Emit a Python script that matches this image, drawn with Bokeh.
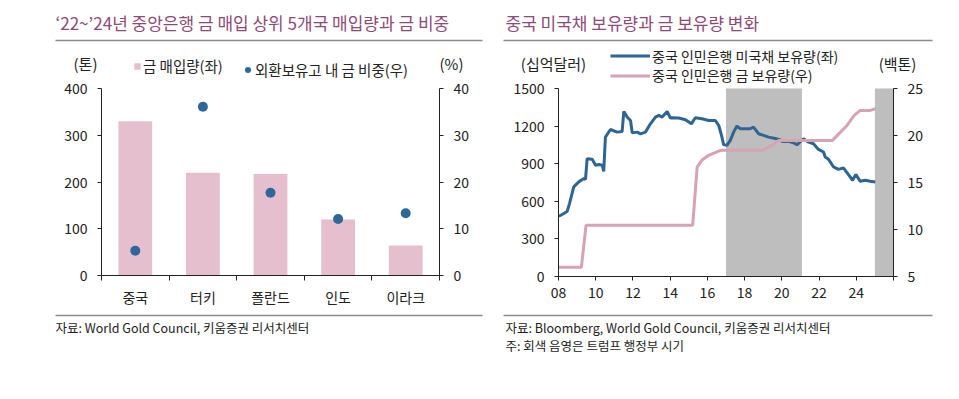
from bokeh.plotting import figure
from bokeh.models import (Range1d, LinearAxis, FixedTicker, Label, BoxAnnotation,
                          Legend, LegendItem, ColumnDataSource)
from bokeh.layouts import row
from bokeh.embed import file_html
from bokeh.resources import INLINE

# ---------------- data ----------------
countries = ["중국", "터키", "폴란드", "인도", "이라크"]
gold_bought = [330, 220, 217, 120, 64]          # tonnes, '22~'24
gold_share = [5.3, 36.1, 17.7, 12.1, 13.3]      # % of FX reserves

ust_year = [2008.02, 2008.29, 2008.47, 2008.59, 2008.82, 2009.09, 2009.36, 2009.45, 2009.54,
            2009.81, 2009.99, 2010.17, 2010.35, 2010.43, 2010.52, 2010.79, 2011.15, 2011.42,
            2011.51, 2011.69, 2011.87, 2011.96, 2012.23, 2012.41, 2012.67, 2012.94, 2013.21,
            2013.39, 2013.57, 2013.84, 2014.01, 2014.10, 2014.46, 2014.82, 2015.14, 2015.35,
            2015.71, 2016.07, 2016.43, 2016.61, 2016.75, 2016.87, 2017.05, 2017.23, 2017.41,
            2017.59, 2017.77, 2018.04, 2018.30, 2018.48, 2018.75, 2019.02, 2019.29, 2019.65,
            2019.92, 2020.01, 2020.36, 2020.63, 2020.81, 2021.17, 2021.44, 2021.70, 2021.97,
            2022.24, 2022.33, 2022.51, 2022.78, 2023.04, 2023.31, 2023.58, 2023.80, 2023.98,
            2024.21, 2024.48, 2024.75, 2025.02]
ust_value = [481, 503, 521, 582, 715, 755, 781, 775, 940,
             935, 887, 893, 887, 839, 1112, 1173, 1152, 1157,
             1317, 1272, 1245, 1146, 1152, 1138, 1152, 1218, 1272,
             1285, 1272, 1317, 1264, 1267, 1264, 1251, 1218, 1267,
             1259, 1245, 1245, 1205, 1131, 1052, 1046, 1086, 1152,
             1200, 1179, 1179, 1179, 1192, 1139, 1126, 1112, 1101,
             1090, 1078, 1078, 1067, 1051, 1099, 1072, 1059, 1014,
             993, 953, 935, 874, 855, 866, 813, 768, 813,
             760, 768, 760, 754]

gold_year = [2008.0, 2009.23, 2009.48, 2015.21, 2015.45, 2015.70, 2016.07, 2016.60, 2016.80,
             2018.93, 2019.47, 2019.83, 2022.72, 2023.50, 2023.89, 2024.21, 2024.75, 2025.02]
gold_value = [5.98, 5.98, 10.46, 10.46, 16.65, 17.36, 17.89, 18.35, 18.42,
              18.42, 18.95, 19.48, 19.48, 21.07, 22.14, 22.67, 22.67, 22.85]

trump_start = [2017.0, 2025.0]
trump_end = [2021.08, 2026.0]

year_ticks = [2008, 2010, 2012, 2014, 2016, 2018, 2020, 2022, 2024, 2026]
year_labels = ["08", "10", "12", "14", "16", "18", "20", "22", "24", ""]

# ---------------- style ----------------
FONT = "Noto Sans CJK KR"
TITLE_COLOR = "#8E4A77"
TEXT = "#222222"
RULE = "#8C8C8C"
BAR = "#E6BFCF"
DOT = "#2E679A"
BLUE = "#2F6592"
PINK = "#D6A2B4"
SHADE = "#BEBEBE"

H = 380  # canvas height (px)
UNIT_SIZE = "15px"


def span_range(v0, v1, p0, p1, lo_px, hi_px):
    """Range whose value v0 sits at pixel p0 and v1 at pixel p1; frame spans lo_px..hi_px."""
    s = (v1 - v0) / (p1 - p0)
    return Range1d(v0 + (lo_px - p0) * s, v0 + (hi_px - p0) * s)


def style_axis(ax, size="14px", standoff=10):
    ax.axis_line_color = TEXT
    ax.major_tick_line_color = TEXT
    ax.major_tick_in = 0
    ax.major_tick_out = 4
    ax.minor_tick_line_color = None
    ax.major_label_text_font = FONT
    ax.major_label_text_font_size = size
    ax.major_label_text_color = TEXT
    ax.major_label_standoff = standoff


def text(p, s, x, y, size="13.5px", color=TEXT, align="left"):
    # x, y: pixels from the canvas left / top
    p.add_layout(Label(x=x, y=H - y, x_units="screen", y_units="screen", text=s,
                       text_font=FONT, text_font_size=size, text_color=color,
                       text_align=align, text_baseline="middle"))


def rule(p, x0, x1, y):
    p.add_layout(BoxAnnotation(left=x0, right=x1, bottom=H - y - 0.7, top=H - y + 0.7,
                               left_units="screen", right_units="screen",
                               bottom_units="screen", top_units="screen",
                               fill_color=RULE, fill_alpha=1.0, line_color=None,
                               level="overlay"))


def legend(p, label, renderer, x, bottom_y, gw, gh, standoff, size="14.5px"):
    p.add_layout(Legend(items=[LegendItem(label=label, renderers=[renderer])],
                        location=(x, H - bottom_y), orientation="horizontal",
                        glyph_width=gw, glyph_height=gh, label_height=gh,
                        label_standoff=standoff, padding=0, margin=0,
                        border_line_color=None, background_fill_alpha=0,
                        label_text_font=FONT, label_text_font_size=size,
                        label_text_color=TEXT))


def base_fig(w, xr, yr):
    p = figure(width=w, height=H, title=None, output_backend="svg", toolbar_location=None,
               x_range=xr, y_range=yr, x_axis_location=None, y_axis_location=None,
               min_border=0, min_border_left=0, min_border_right=0,
               min_border_top=0, min_border_bottom=0)
    p.grid.visible = False
    p.outline_line_color = None
    p.background_fill_color = "white"
    p.border_fill_color = "white"
    return p


# ---------------- left chart ----------------
W1 = 488
n = len(countries)
p1 = base_fig(W1, span_range(-0.5, n - 0.5, 101, 439, 0, W1), span_range(0, 400, 275, 88, H, 0))
p1.extra_y_ranges = {"pct": span_range(0, 40, 275, 88, H, 0)}

idx = list(range(n))
src1 = ColumnDataSource(dict(x=idx, bought=gold_bought, share=gold_share, name=countries))
bars = p1.vbar(x="x", top="bought", width=0.5, source=src1, fill_color=BAR, line_color=None)
dots = p1.scatter(x="x", y="share", source=src1, y_range_name="pct", size=10,
                  fill_color=DOT, line_color=None)

ly = LinearAxis(ticker=FixedTicker(ticks=[0, 100, 200, 300, 400]), fixed_location=-0.5,
                bounds=(0, 400))
style_axis(ly)
p1.add_layout(ly, "left")
ry = LinearAxis(y_range_name="pct", ticker=FixedTicker(ticks=[0, 10, 20, 30, 40]),
                fixed_location=n - 0.5, bounds=(0, 40))
style_axis(ry)
p1.add_layout(ry, "right")

bx = LinearAxis(ticker=FixedTicker(ticks=idx, minor_ticks=[i - 0.5 for i in range(n + 1)]),
                fixed_location=0, bounds=(-0.5, n - 0.5))
style_axis(bx, standoff=6)
bx.major_tick_line_color = None
bx.major_tick_out = 0
bx.minor_tick_line_color = TEXT
bx.minor_tick_in = 0
bx.minor_tick_out = 5
bx.major_label_overrides = {i: c for i, c in zip(idx, countries)}
p1.add_layout(bx, "below")

legend(p1, "금 매입량(좌)", bars, 133, 76, 8, 8, 2)
legend(p1, "외환보유고 내 금 비중(우)", dots, 240, 79.5, 15, 15, 0)

text(p1, "‘22~’24년 중앙은행 금 매입 상위 5개국 매입량과 금 비중", 55, 22, size="17px",
     color=TITLE_COLOR)
rule(p1, 55, 482, 40)
text(p1, "(톤)", 85, 63, size=UNIT_SIZE, align="center")
text(p1, "(%)", 451, 63, size=UNIT_SIZE, align="center")
rule(p1, 55, 482, 315)
text(p1, "자료: World Gold Council,  키움증권  리서치센터", 55, 327, size="12.5px")

# ---------------- right chart ----------------
W2 = 463
X0 = W1  # page x where the right canvas starts
p2 = base_fig(W2, span_range(2008, 2026, 558 - X0, 893 - X0, 0, W2),
              span_range(0, 1500, 276, 88, H, 0))
p2.extra_y_ranges = {"gold": span_range(5, 25, 276, 88, H, 0)}

p2.quad(left=trump_start, right=trump_end, bottom=0, top=1500, fill_color=SHADE,
        line_color=None)
l_ust = p2.line(ust_year, ust_value, line_color=BLUE, line_width=3)
l_gold = p2.line(gold_year, gold_value, y_range_name="gold", line_color=PINK, line_width=3)

ly2 = LinearAxis(ticker=FixedTicker(ticks=[0, 300, 600, 900, 1200, 1500]),
                 fixed_location=2008, bounds=(0, 1500))
style_axis(ly2)
p2.add_layout(ly2, "left")
ry2 = LinearAxis(y_range_name="gold", ticker=FixedTicker(ticks=[5, 10, 15, 20, 25]),
                 fixed_location=2026, bounds=(5, 25))
style_axis(ry2)
p2.add_layout(ry2, "right")
bx2 = LinearAxis(ticker=FixedTicker(ticks=year_ticks), fixed_location=0, bounds=(2008, 2026))
style_axis(bx2, standoff=6)
bx2.major_label_overrides = {t: s for t, s in zip(year_ticks, year_labels)}
p2.add_layout(bx2, "below")

legend(p2, "중국 인민은행 미국채 보유량(좌)", l_ust, 610 - X0, 65.5, 40, 17, 2, size="14px")
legend(p2, "중국 인민은행 금 보유량(우)", l_gold, 610 - X0, 85, 40, 17, 2, size="14px")

text(p2, "중국 미국채 보유량과 금 보유량 변화", 505 - X0, 22, size="17px", color=TITLE_COLOR)
rule(p2, 503 - X0, 932 - X0, 40)
text(p2, "(십억달러)", 553 - X0, 63, size=UNIT_SIZE, align="center")
text(p2, "(백톤)", 897 - X0, 63, size=UNIT_SIZE, align="center")
rule(p2, 503 - X0, 932 - X0, 315)
text(p2, "자료: Bloomberg, World Gold Council,  키움증권  리서치센터", 505 - X0, 327,
     size="12.5px")
text(p2, "주:  회색  음영은  트럼프  행정부  시기", 505 - X0, 345, size="12.5px")

layout = row(p1, p2)
open("out.html", "w").write(file_html(layout, INLINE))
